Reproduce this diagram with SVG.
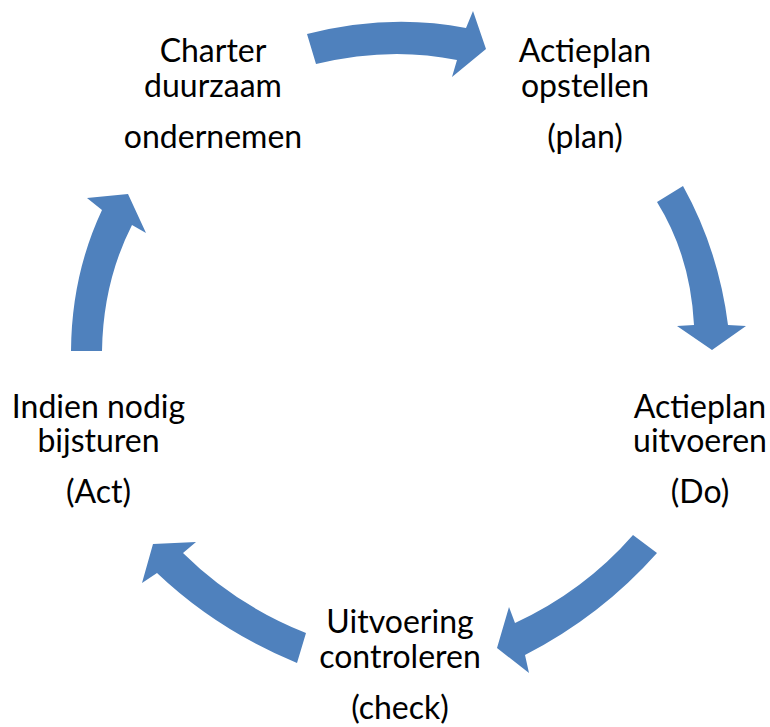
<svg xmlns="http://www.w3.org/2000/svg" width="770" height="727" viewBox="0 0 770 727">
<style>
.arrow{fill:#4F81BD;stroke:none}
.lbl{font-family:Lato,"Liberation Sans",sans-serif;font-size:32px;fill:#000;text-anchor:middle}
</style>
<rect width="770" height="727" fill="#fff"/>
<g id="connectors">
<path class="arrow" d="M307,34 Q389.5,13 466,28 L473,11 L486,49 L452,77 L457,60 Q389.5,46 316,64 Z"/>
<path class="arrow" d="M683,186 Q718.5,250 728,325 L746,326 L712,350 L677,326 L694,325 Q690.5,256 657,202 Z"/>
<path class="arrow" d="M657,553 Q601,616 525,655 L529,673 L497,648 L509,607 L515,623 Q584,591 633,535 Z"/>
<path class="arrow" d="M297,663 Q217,630 157,573 L142,583 L153,544 L196,542 L183,553 Q235.5,605 306,633 Z"/>
<path class="arrow" d="M71,351 Q71.5,275 102,210 L87,198 L128,194 L146,233 L132,225 Q103,282 102,351 Z"/>
</g>
<g id="node-charter">
<text class="lbl" x="213" y="62">Charter</text>
<text class="lbl" x="213" y="97">duurzaam</text>
<text class="lbl" x="213" y="148">ondernemen</text>
</g>
<g id="node-plan">
<text class="lbl" x="585" y="62">Actieplan</text>
<text class="lbl" x="585" y="97">opstellen</text>
<text class="lbl" x="585" y="148">(plan)</text>
</g>
<g id="node-do">
<text class="lbl" x="700" y="418">Actieplan</text>
<text class="lbl" x="700" y="452">uitvoeren</text>
<text class="lbl" x="700" y="503">(Do)</text>
</g>
<g id="node-check">
<text class="lbl" x="400" y="633">Uitvoering</text>
<text class="lbl" x="400" y="668">controleren</text>
<text class="lbl" x="400" y="719">(check)</text>
</g>
<g id="node-act">
<text class="lbl" x="98.5" y="418">Indien nodig</text>
<text class="lbl" x="98.5" y="452">bijsturen</text>
<text class="lbl" x="98.5" y="503">(Act)</text>
</g>
</svg>
